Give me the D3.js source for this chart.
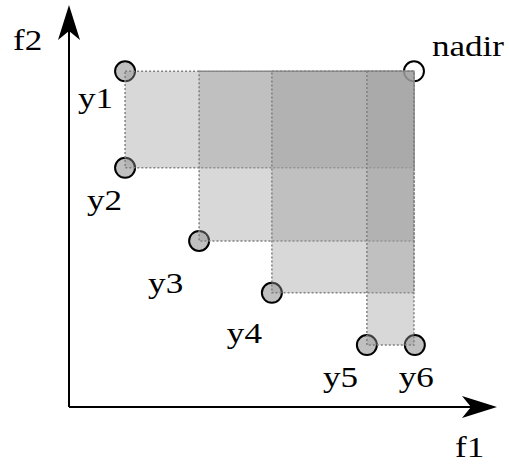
<!DOCTYPE html>
<html>
<head>
<meta charset="utf-8">
<script src="https://cdn.jsdelivr.net/npm/d3@7"></script>
<style>
  html, body { margin: 0; padding: 0; background: #fff; }
  svg { display: block; }
  text { font-family: 'Liberation Serif', 'Times New Roman', serif; font-size: 30px; fill: #000; }
</style>
</head>
<body>
<div id="chart"></div>
<script>
// points on the front
const names = ['y1', 'y2', 'y3', 'y4', 'y5', 'y6']
const f1 = [1.31, 1.31, 3.04, 4.74, 6.96, 8.08]
const f2 = [8.35, 5.95, 4.13, 2.84, 1.54, 1.54]
const nadir = [8.06, 8.35]

// label offsets (px) from each marker
const labelOffsets = [[-47, 37], [-38, 42], [-51, 52], [-45, 50], [-44, 42], [-16, 42]]

const width = 509
const height = 464

const x = d3.scaleLinear().domain([0, 10]).range([69, 497])
const y = d3.scaleLinear().domain([0, 10]).range([407, 5])

const svg = d3
  .select('#chart')
  .append('svg')
  .attr('width', width)
  .attr('height', height)

const points = names.map((n, i) => ({ name: n, f1: f1[i], f2: f2[i], off: labelOffsets[i] }))

// markers go under the boxes
svg
  .append('g')
  .selectAll('circle')
  .data(points)
  .join('circle')
  .attr('cx', (d) => x(d.f1))
  .attr('cy', (d) => y(d.f2))
  .attr('r', 10)
  .attr('fill', '#c0c0c0')
  .attr('stroke', '#000')
  .attr('stroke-width', 2)

svg
  .append('circle')
  .attr('cx', x(nadir[0]))
  .attr('cy', y(nadir[1]))
  .attr('r', 10)
  .attr('fill', '#fff')
  .attr('stroke', '#000')
  .attr('stroke-width', 2)

// dominated boxes between each point and the nadir
const boxes = points.filter((d) => d.f1 < nadir[0] && d.f2 < nadir[1])

svg
  .append('g')
  .selectAll('rect')
  .data(boxes)
  .join('rect')
  .attr('x', (d) => x(d.f1))
  .attr('y', y(nadir[1]))
  .attr('width', (d) => x(nadir[0]) - x(d.f1))
  .attr('height', (d) => y(d.f2) - y(nadir[1]))
  .attr('fill', '#9e9e9e')
  .attr('fill-opacity', 0.4)
  .attr('stroke', '#808080')
  .attr('stroke-width', 1.5)
  .attr('stroke-dasharray', '2,2')

// axes with filled arrow heads
const axes = svg.append('g')
axes
  .append('line')
  .attr('x1', x(0)).attr('y1', y(0))
  .attr('x2', x(0)).attr('y2', y(10) + 20)
  .attr('stroke', '#000').attr('stroke-width', 2)
axes
  .append('line')
  .attr('x1', x(0)).attr('y1', y(0))
  .attr('x2', x(10) - 20).attr('y2', y(0))
  .attr('stroke', '#000').attr('stroke-width', 2)

const ax = x(0)
const ty = y(10)
axes
  .append('path')
  .attr('d', `M${ax},${ty} L${ax + 11},${ty + 35} L${ax},${ty + 26} L${ax - 11},${ty + 35} Z`)
  .attr('fill', '#000')
const tx = x(10)
const ay = y(0)
axes
  .append('path')
  .attr('d', `M${tx},${ay} L${tx - 35},${ay - 11} L${tx - 26},${ay} L${tx - 35},${ay + 11} Z`)
  .attr('fill', '#000')

const sx = 1.17
const label = (txt, px, py) =>
  svg
    .append('text')
    .attr('transform', `translate(${px},${py}) scale(${sx},1)`)
    .text(txt)

label('f2', 13, 50)
label('f1', 455, 457)
label('nadir', x(nadir[0]) + 18, y(nadir[1]) - 15)

points.forEach((d) => label(d.name, x(d.f1) + d.off[0], y(d.f2) + d.off[1]))
</script>
</body>
</html>
